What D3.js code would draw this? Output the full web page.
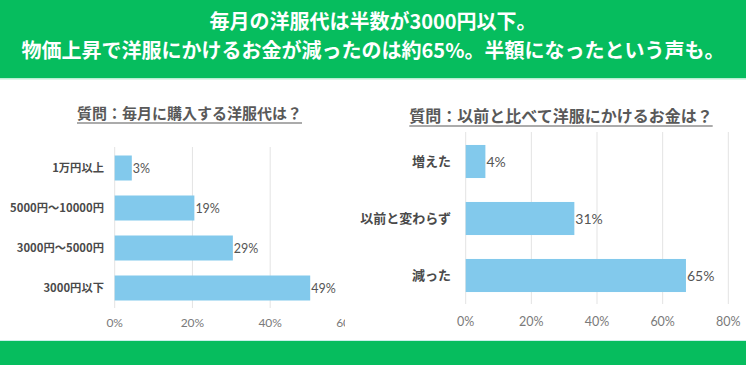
<!DOCTYPE html>
<html>
<head>
<meta charset="utf-8">
<script src="https://cdn.jsdelivr.net/npm/d3@7"></script>
<style>
  body { margin: 0; background: #fff; }
  svg { display: block; font-family: "Noto Sans CJK JP", sans-serif; }
  .num { font-family: Lato, "Noto Sans CJK JP", sans-serif; }
</style>
</head>
<body>
<div id="chart"></div>
<script>
var width = 746, height = 365;

// headline
var titleLines = ["毎月の洋服代は半数が3000円以下。", "物価上昇で洋服にかけるお金が減ったのは約65%。半額になったという声も。"];

// left chart: monthly clothing spend
var leftTitle = "質問：毎月に購入する洋服代は？";
var leftCats = ["1万円以上", "5000円～10000円", "3000円～5000円", "3000円以下"];
var leftValues = [4.4, 20.5, 30.4, 50.3];
var leftLabels = ["3%", "19%", "29%", "49%"];
var leftTicks = [0, 20, 40, 60];

// right chart: compared to before
var rightTitle = "質問：以前と比べて洋服にかけるお金は？";
var rightCats = ["増えた", "以前と変わらず", "減った"];
var rightValues = [6.0, 33.1, 67.1];
var rightLabels = ["4%", "31%", "65%"];
var rightTicks = [0, 20, 40, 60, 80];

var green = "#06bd5e",
    barColor = "#82c9ec";

var svg = d3.select("#chart")
  .append("svg")
  .attr("width", width)
  .attr("height", height);

// green bands top and bottom
svg.append("rect").attr("x", 0).attr("y", 0).attr("width", width).attr("height", 78).attr("fill", green);
svg.append("rect").attr("x", 0).attr("y", 78).attr("width", width).attr("height", 1.5).attr("fill", "#b8eed2");
svg.append("rect").attr("x", 0).attr("y", 340).attr("width", width).attr("height", 1.5).attr("fill", "#c8f0e8");
svg.append("rect").attr("x", 0).attr("y", 341).attr("width", width).attr("height", 24).attr("fill", green);

svg.selectAll(".headline")
  .data(titleLines)
  .enter()
  .append("text")
  .attr("class", "headline")
  .attr("x", width / 2)
  .attr("y", function(d, i) { return 29 + i * 29; })
  .attr("text-anchor", "middle")
  .attr("fill", "#fff")
  .style("font-size", "20px")
  .style("font-weight", "700")
  .text(function(d) { return d; });

function drawChart(opt) {
  var g = svg.append("g");
  if (opt.clip) {
    svg.append("clipPath").attr("id", opt.id + "-clip")
      .append("rect").attr("x", 0).attr("y", 0).attr("width", opt.clip).attr("height", height);
    g.attr("clip-path", "url(#" + opt.id + "-clip)");
  }

  var x = d3.scaleLinear().domain([0, opt.ticks[opt.ticks.length - 1]]).range(opt.xRange);
  var y = d3.scaleBand().domain(opt.cats).range(opt.yRange)
    .paddingInner(opt.pad).paddingOuter(opt.pad / 2);

  // title with underline
  var t = g.append("text")
    .attr("x", opt.titleX)
    .attr("y", opt.titleY)
    .attr("text-anchor", "middle")
    .attr("fill", "#595959")
    .style("font-size", opt.titleSize + "px")
    .style("font-weight", "700")
    .text(opt.title);
  var bb = t.node().getBBox();
  g.append("line")
    .attr("x1", bb.x).attr("x2", bb.x + bb.width)
    .attr("y1", opt.titleY + 4).attr("y2", opt.titleY + 4)
    .attr("stroke", "#595959").attr("stroke-width", 1.2);

  // gridlines
  g.selectAll(".grid")
    .data(opt.ticks)
    .enter()
    .append("line")
    .attr("x1", function(d) { return x(d); })
    .attr("x2", function(d) { return x(d); })
    .attr("y1", opt.yRange[0] - 1)
    .attr("y2", opt.yRange[1])
    .attr("stroke", "#e3e3e3")
    .attr("stroke-width", 1);

  // tick labels
  g.selectAll(".tick")
    .data(opt.ticks)
    .enter()
    .append("text")
    .attr("class", "num")
    .attr("x", function(d) { return x(d); })
    .attr("y", opt.tickY)
    .attr("text-anchor", "middle")
    .attr("fill", "#7a7a7a")
    .style("font-size", opt.tickSize + "px")
    .text(function(d) { return d + "%"; });

  // bars
  g.selectAll(".bar")
    .data(opt.values)
    .enter()
    .append("rect")
    .attr("x", x(0))
    .attr("y", function(d, i) { return y(opt.cats[i]); })
    .attr("width", function(d) { return x(d) - x(0); })
    .attr("height", y.bandwidth())
    .attr("fill", barColor);

  // value labels
  g.selectAll(".val")
    .data(opt.values)
    .enter()
    .append("text")
    .attr("class", "num")
    .attr("x", function(d) { return x(d) + 1; })
    .attr("y", function(d, i) { return y(opt.cats[i]) + y.bandwidth() / 2; })
    .attr("dy", "0.36em")
    .attr("fill", "#555")
    .style("font-size", opt.valSize + "px")
    .text(function(d, i) { return opt.labels[i]; });

  // category labels
  g.selectAll(".cat")
    .data(opt.cats)
    .enter()
    .append("text")
    .attr("x", opt.catX)
    .attr("y", function(d) { return y(d) + y.bandwidth() / 2; })
    .attr("dy", "0.36em")
    .attr("text-anchor", "end")
    .attr("fill", "#4a4a4a")
    .style("font-size", opt.catSize + "px")
    .style("font-weight", "700")
    .text(function(d) { return d; });
}

drawChart({
  id: "left", title: leftTitle, cats: leftCats, values: leftValues, labels: leftLabels, ticks: leftTicks,
  xRange: [114.7, 347.9], yRange: [148, 308], pad: 0.375,
  titleX: 189.5, titleY: 119, titleSize: 15,
  tickY: 327, tickSize: 12, valSize: 12.5, catX: 104, catSize: 11.3, clip: 345
});

drawChart({
  id: "right", title: rightTitle, cats: rightCats, values: rightValues, labels: rightLabels, ticks: rightTicks,
  xRange: [465.7, 728.3], yRange: [133, 304], pad: 0.42,
  titleX: 561, titleY: 122, titleSize: 16,
  tickY: 326, tickSize: 12.5, valSize: 14, catX: 451, catSize: 13
});
</script>
</body>
</html>
